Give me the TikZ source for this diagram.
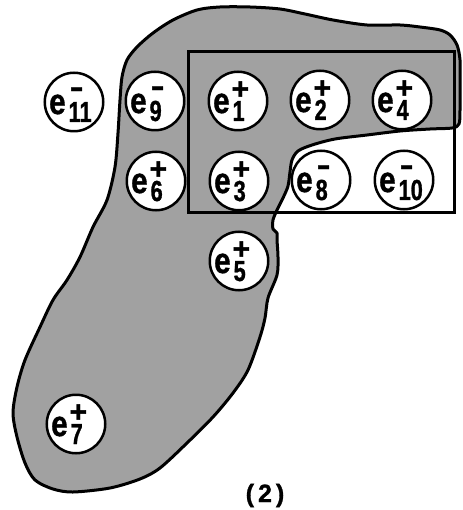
\documentclass[tikz,border=0pt]{standalone}
\usepackage{fontspec}
\usepackage{graphicx}
\setmainfont{Liberation Sans}
\newfontfamily\heavy{Liberation Sans Bold}[FakeBold=1.2]
\usetikzlibrary{calc}
\tikzset{
  ball/.style={circle, draw=black, line width=2.5pt, fill=white, minimum size=58.5pt, inner sep=0pt},
  lab/.style={inner sep=0pt, font=\heavy},
  blob/.style={draw=black, line width=3pt, fill=black!37, line join=round},
  frame/.style={draw=black, line width=2.7pt},
  caption/.style={inner sep=0pt, font=\fontsize{25}{25}\selectfont\heavy}
}
\newcommand\ebig{\scalebox{0.82}[1]{\fontsize{36}{36}\selectfont e}}
\newcommand\supp[2]{\rlap{\raisebox{#2}{\fontsize{30}{30}\selectfont #1}}}
\newcommand\subb[1]{\raisebox{-8pt}{\scalebox{0.75}[1]{\fontsize{29}{29}\selectfont #1}}}
% #1 name, #2 x, #3 y, #4 sign text, #5 sign raise, #6 sign kern, #7 index
\newcommand\charge[7]{%
  \node[ball] (#1) at (#2,#3) {};
  \node[lab, anchor=base west] (#1-l) at ($(#1)+(-25,12)$)
    {\ebig\kern#6\supp{#4}{#5}\kern-#6\kern3pt\subb{#7}};
}
\newcommand\plussign{+}
\newcommand\minussign{\scalebox{1.4}[1]{-}}
\begin{document}
\begin{tikzpicture}[x=1pt,y=-1pt]
\useasboundingbox (0,0) rectangle (462,510);
% shaded region
\path[blob] plot[smooth cycle, tension=0.5] coordinates {
 (127,60) (137,47) (153,33) (173,20) (197,10) (220,7) (250,7) (280,9) (305,14)
 (333,20) (367,25) (400,25) (420,27) (440,30) (450,35) (457,45) (460,60) (460,85)
 (460,110) (459,124) (452,128) (430,129) (400,131) (367,135) (335,139) (312,145)
 (298,151) (292,160) (290,172) (288,186) (283,198) (277,210) (273,220) (273,229)
 (277,233) (277,240) (278,257) (277,275) (268,298) (265,318) (260,337) (248,370)
 (233,393) (213,417) (187,443) (160,468) (140,479) (110,488) (73,492) (53,489)
 (35,480) (25,463) (17,437) (13,413) (17,387) (25,360) (40,327) (53,300) (67,280)
 (80,257) (93,227) (107,200) (115,167) (118,133) (120,100) (122,77)};
% rectangle
\node[frame, inner sep=0pt, anchor=north west, minimum width=266pt, minimum height=161pt] (box) at (187,50) {};
% charges
\charge{e11}{74}{102}{\minussign}{17pt}{4pt}{11}
\charge{e9}{155}{101}{\minussign}{17pt}{4pt}{9}
\charge{e1}{238}{101}{\plussign}{14pt}{2pt}{1}
\charge{e2}{320}{100}{\plussign}{14pt}{2pt}{2}
\charge{e4}{402}{100}{\plussign}{14pt}{2pt}{4}
\charge{e6}{156}{181}{\plussign}{14pt}{2pt}{6}
\charge{e3}{239}{181}{\plussign}{14pt}{2pt}{3}
\charge{e8}{321}{180}{\minussign}{17pt}{4pt}{8}
\charge{e10}{404}{180}{\minussign}{17pt}{4pt}{10}
\charge{e5}{239}{261}{\plussign}{14pt}{2pt}{5}
\charge{e7}{76}{424}{\plussign}{14pt}{2pt}{7}
% caption
\node[caption, anchor=base] (cap) at (265,502) {(\kern4pt2\kern4pt)};
\end{tikzpicture}
\end{document}
